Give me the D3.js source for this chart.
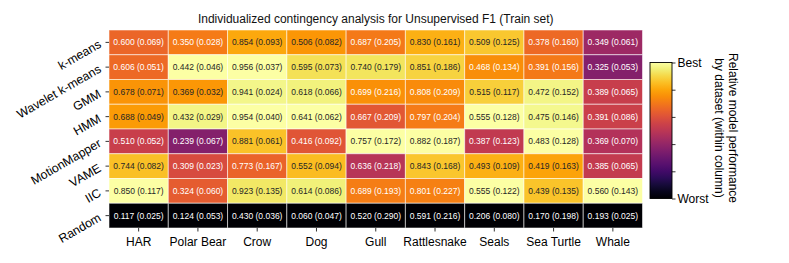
<!DOCTYPE html>
<html><head><meta charset="utf-8">
<script src="https://cdn.jsdelivr.net/npm/d3@7"></script>
<style>body{margin:0;background:#fff}svg{display:block}text{font-family:"Liberation Sans",Arial,sans-serif}</style>
</head><body><svg id="c" width="789" height="263"></svg>
<script>
const models = ["k-means","Wavelet k-means","GMM","HMM","MotionMapper","VAME","IIC","Random"];
const datasets = ["HAR","Polar Bear","Crow","Dog","Gull","Rattlesnake","Seals","Sea Turtle","Whale"];
const meanRows = [
  [0.600,0.350,0.854,0.506,0.687,0.830,0.509,0.378,0.349],
  [0.606,0.442,0.956,0.595,0.740,0.851,0.468,0.391,0.325],
  [0.678,0.369,0.941,0.618,0.699,0.808,0.515,0.472,0.389],
  [0.688,0.432,0.954,0.641,0.667,0.797,0.555,0.475,0.391],
  [0.510,0.239,0.881,0.416,0.757,0.882,0.387,0.483,0.369],
  [0.744,0.309,0.773,0.552,0.636,0.843,0.493,0.419,0.385],
  [0.850,0.324,0.923,0.614,0.689,0.801,0.555,0.439,0.560],
  [0.117,0.124,0.430,0.060,0.520,0.591,0.206,0.170,0.193]
];
const sdRows = [
  [0.069,0.028,0.093,0.082,0.205,0.161,0.125,0.160,0.061],
  [0.051,0.046,0.037,0.073,0.179,0.186,0.134,0.156,0.053],
  [0.071,0.032,0.024,0.066,0.216,0.209,0.117,0.152,0.065],
  [0.049,0.029,0.040,0.062,0.209,0.204,0.128,0.146,0.086],
  [0.052,0.067,0.061,0.092,0.172,0.187,0.123,0.128,0.070],
  [0.082,0.023,0.167,0.094,0.218,0.168,0.109,0.163,0.065],
  [0.117,0.060,0.135,0.086,0.193,0.227,0.122,0.135,0.143],
  [0.025,0.053,0.036,0.047,0.290,0.216,0.080,0.198,0.025]
];
const colorbarTicks = [0,0.2,0.4,0.6,0.8,1];
const colorbarLabels = {1:"Best",0:"Worst"};

const svg = d3.select("#c");
const L=109, R=642.5, T=30, B=228;
const x = d3.scaleBand().domain(datasets).range([L,R]);
const y = d3.scaleBand().domain(models).range([T,B]);

// per-column normalisation
const colScales = datasets.map((d,j)=>{
  const vals = meanRows.map(r=>r[j]);
  return d3.scaleLinear().domain(d3.extent(vals)).range([0,1]);
});
const cells = [];
models.forEach((m,i)=>datasets.forEach((d,j)=>{
  cells.push({m,d,v:meanRows[i][j],sd:sdRows[i][j],t:colScales[j](meanRows[i][j])});
}));

svg.append("text").attr("x",(L+R)/2).attr("y",23).attr("text-anchor","middle")
  .attr("font-size",12).attr("fill","#111")
  .text("Individualized contingency analysis for Unsupervised F1 (Train set)");

const g = svg.append("g");
g.selectAll("rect").data(cells).join("rect")
  .attr("x",c=>x(c.d)).attr("y",c=>y(c.m))
  .attr("width",x.bandwidth()).attr("height",y.bandwidth())
  .attr("fill",c=>d3.interpolateInferno(c.t))
  .attr("stroke","rgba(255,255,255,0.55)").attr("stroke-width",1);
g.selectAll("text").data(cells).join("text")
  .attr("x",c=>x(c.d)+x.bandwidth()/2).attr("y",c=>y(c.m)+y.bandwidth()/2)
  .attr("dy","0.35em").attr("text-anchor","middle").attr("font-size",8.5)
  .attr("fill",c=>c.t<0.758?"#fff":"#262626")
  .text(c=>`${c.v.toFixed(3)} (${c.sd.toFixed(3)})`);

// x axis
const xa = svg.append("g").attr("transform",`translate(0,${B})`)
  .call(d3.axisBottom(x).tickSize(3.5).tickPadding(6));
xa.select(".domain").remove();
xa.selectAll("line").attr("stroke","#000").attr("stroke-width",0.8);
xa.selectAll("text").attr("font-size",12).attr("fill","#000").attr("font-family","Liberation Sans, Arial, sans-serif");

// y axis
const ya = svg.append("g").attr("transform",`translate(${L},0)`)
  .call(d3.axisLeft(y).tickSize(3.5).tickPadding(3));
ya.select(".domain").remove();
ya.selectAll("line").attr("stroke","#000").attr("stroke-width",0.8);
ya.selectAll("text").attr("font-size",12.3).attr("fill","#000")
  .attr("font-family","Liberation Sans, Arial, sans-serif")
  .attr("x",null).attr("dy","0.32em")
  .attr("transform","translate(-9,1) rotate(-30)");

// colorbar
const cbX=650, cbW=22, cbT=62.5, cbB=198.5;
const defs = svg.append("defs");
const grad = defs.append("linearGradient").attr("id","cbg").attr("x1",0).attr("x2",0).attr("y1",1).attr("y2",0);
d3.range(0,1.0001,0.05).forEach(s=>grad.append("stop").attr("offset",s).attr("stop-color",d3.interpolateInferno(s)));
svg.append("rect").attr("x",cbX).attr("y",cbT).attr("width",cbW).attr("height",cbB-cbT)
  .attr("fill","url(#cbg)").attr("stroke","#000").attr("stroke-width",0.9);
const cy = d3.scaleLinear().domain([0,1]).range([cbB,cbT]);
const ca = svg.append("g").attr("transform",`translate(${cbX+cbW},0)`)
  .call(d3.axisRight(cy).tickValues(colorbarTicks).tickSize(3.5).tickPadding(2)
    .tickFormat(v=>colorbarLabels[v]||""));
ca.select(".domain").remove();
ca.selectAll("line").attr("stroke","#000").attr("stroke-width",0.8);
ca.selectAll("text").attr("font-size",12).attr("fill","#000").attr("font-family","Liberation Sans, Arial, sans-serif");

const lab = svg.append("text").attr("transform","translate(726,128) rotate(90)")
  .attr("text-anchor","middle").attr("font-size",12).attr("fill","#000");
lab.append("tspan").attr("x",0).attr("dy","-0.25em").text("Relative model performance");
lab.append("tspan").attr("x",0).attr("dy","1.2em").text("by dataset (within column)");
</script></body></html>
